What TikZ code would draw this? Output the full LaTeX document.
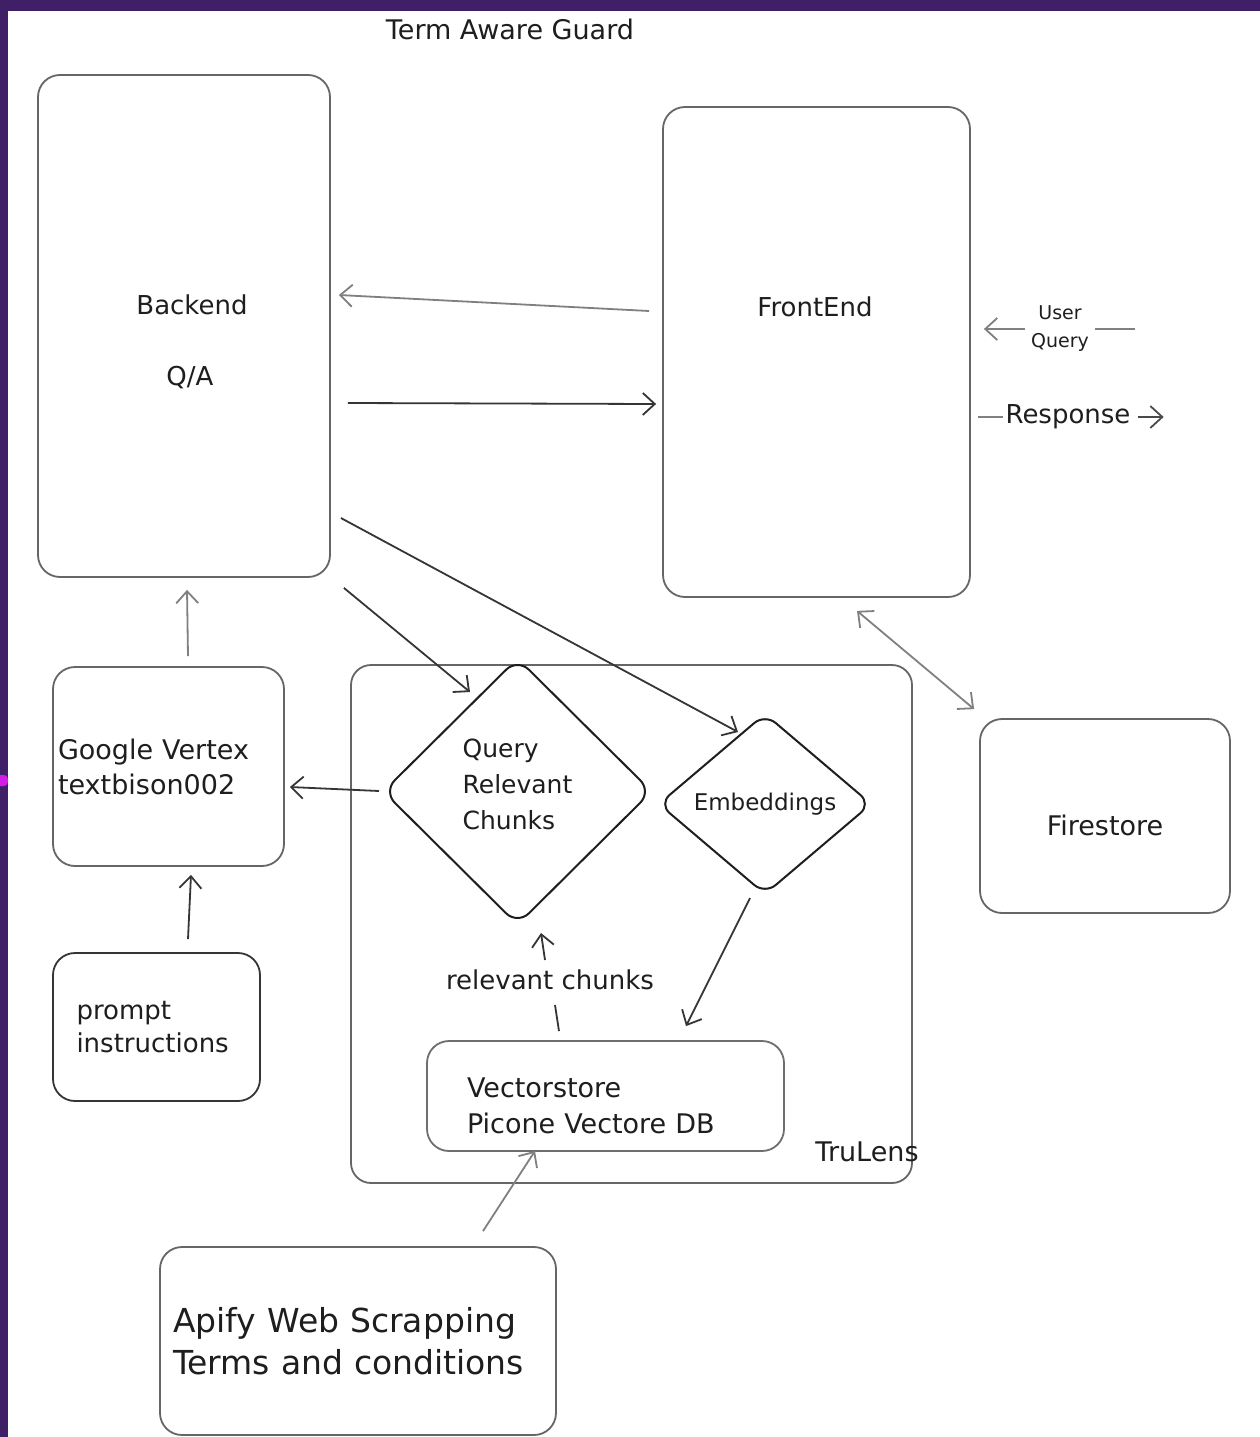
\documentclass[tikz,border=0pt]{standalone}
\usepackage{fontspec}
\setmainfont{DejaVu Sans}
\usetikzlibrary{arrows.meta,shapes.geometric,calc}
\definecolor{bgpurple}{HTML}{3F1F66}
\definecolor{markmag}{HTML}{D21DE6}
\definecolor{ink}{HTML}{1E1E1E}
\definecolor{lightink}{HTML}{666666}
\definecolor{midink}{HTML}{4A4A4A}
\definecolor{arrgray}{HTML}{808080}
\tikzset{
  box/.style={draw=lightink, line width=1.8pt, rounded corners=22pt, inner sep=0pt, text=ink},
  darkbox/.style={box, draw=ink!90},
  dia/.style={diamond, draw=ink, line width=2pt, rounded corners=16pt, inner sep=0pt, text=ink, align=left},
  lbl/.style={text=ink, inner sep=2pt},
  arr/.style={draw=ink!90, line width=1.8pt, -{Straight Barb[length=12pt,width=22pt,line width=1.8pt]}},
  garr/.style={arr, draw=arrgray},
  garrboth/.style={draw=arrgray, line width=1.8pt, {Straight Barb[length=12pt,width=22pt,line width=1.8pt]}-{Straight Barb[length=12pt,width=22pt,line width=1.8pt]}},
  gline/.style={draw=arrgray, line width=1.8pt},
  dline/.style={draw=ink!90, line width=1.8pt}
}
\begin{document}
\begin{tikzpicture}[x=1pt,y=-1pt]
\useasboundingbox (0,0) rectangle (1260,1437);
\clip (0,0) rectangle (1260,1437);
% background
\fill[bgpurple] (0,0) rectangle (1260,1437);
\fill[white] (8,11) rectangle (1262,1440);
\fill[markmag, rounded corners=4pt] (-6,775) rectangle (8,786);

% title
\node[lbl, font=\fontsize{27}{30}\selectfont] (title) at (510,29) {Term Aware Guard};

% main boxes
\node[box, minimum width=292pt, minimum height=502pt] (be) at (184,326) {};
\node[lbl, font=\fontsize{26}{30}\selectfont] (bkl1) at (192,305) {Backend};
\node[lbl, font=\fontsize{26}{30}\selectfont] (bkl2) at (190,378) {Q/A};

\node[box, minimum width=307pt, minimum height=490pt] (fe) at (816.5,352) {};
\node[lbl, font=\fontsize{26}{30}\selectfont] (fel) at (815,307) {FrontEnd};

\node[lbl, font=\fontsize{19}{28}\selectfont, align=center] (uq) at (1060,329) {User\\Query};
\node[lbl, font=\fontsize{26}{30}\selectfont] (rsp) at (1068,417) {Response};

\node[box, minimum width=561pt, minimum height=518pt, rounded corners=20pt] (tl) at (631.5,924) {};
\node[lbl, font=\fontsize{27}{30}\selectfont] (tll) at (867,1152) {TruLens};

\node[dia, minimum width=269pt, minimum height=267pt, font=\fontsize{25}{36}\selectfont] (qd) at (517.5,791.5) {Query\\Relevant\\Chunks\rule[-14pt]{0pt}{0pt}};
\node[dia, minimum width=213pt, minimum height=181pt, rounded corners=14pt, font=\fontsize{23}{28}\selectfont] (emb) at (765,804) {Embeddings};

\node[box, minimum width=231pt, minimum height=199pt, text width=221pt, inner xsep=5pt, align=left, font=\fontsize{27}{35}\selectfont] (gv) at (168.5,766.5) {Google Vertex\\textbison002};

\node[darkbox, minimum width=207pt, minimum height=148pt, text width=160pt, inner xsep=23.5pt, align=left, font=\fontsize{26}{33}\selectfont] (pr) at (156.5,1027) {prompt\\instructions};

\node[box, draw=midink!80, minimum width=357pt, minimum height=110pt, text width=277pt, inner xsep=40pt, align=left, font=\fontsize{27}{36}\selectfont] (vec) at (605.5,1096) {\rule{0pt}{40pt}Vectorstore\\Picone Vectore DB};

\node[lbl, font=\fontsize{26}{30}\selectfont, fill=white, inner sep=1pt] (rc) at (550,980) {relevant chunks};

\node[box, minimum width=250pt, minimum height=194pt, font=\fontsize{27}{30}\selectfont] (fs) at (1105,816) {\rule{0pt}{40pt}Firestore};

\node[box, minimum width=396pt, minimum height=188pt, text width=370pt, inner xsep=13pt, align=left, font=\fontsize{33}{42}\selectfont] (ap) at (358,1341) {Apify Web Scrapping\\Terms and conditions};

% connectors
\draw[garr] ([shift={(-13,-41)}]fe.west) -- ([shift={(8,-31)}]be.east);
\draw[arr] ([shift={(17,77)}]be.east) -- ([shift={(-6,52)}]fe.west);

\draw[garr, shorten <=4pt, shorten >=13pt] (uq.west) -- (uq.west -| fe.east);
\draw[gline] ([xshift=4pt]uq.east) -- ++(40,0);

\draw[gline] (rsp.west -| fe.east) ++(7,0) -- (rsp.west);
\draw[garr, draw=midink] ([xshift=5pt]rsp.east) -- ++(26,0);

\draw[arr] ([shift={(13,10)}]be.south east) -- ([shift={(-47.5,35)}]qd.north);
\draw[arr] ([shift={(10,192)}]be.east) -- ([shift={(-27,19.5)}]emb.north);

\draw[garrboth] ([shift={(40.5,13)}]fe.south) -- ([shift={(-5,-9)}]fs.north west);

\draw[arr] ([shift={(-3,-0.5)}]qd.west) -- ([shift={(5,20.5)}]gv.east);
\draw[garr] ([shift={(19.5,-10)}]gv.north) -- ([shift={(3,12)}]be.south);
\draw[arr] ([shift={(31.5,-13)}]pr.north) -- ([shift={(22.5,8)}]gv.south);

\draw[arr] ([shift={(-15,2.5)}]emb.south) -- ([shift={(80.5,-14)}]vec.north);

\draw[dline] ([shift={(-46.5,-9)}]vec.north) -- ([shift={(5,25)}]rc.center);
\draw[arr] ([shift={(-5,-20)}]rc.center) -- ([shift={(23.5,7)}]qd.south);

\draw[garr] ([shift={(125,-15)}]ap.north) -- ([shift={(-70.5,-1)}]vec.south);
\end{tikzpicture}
\end{document}
